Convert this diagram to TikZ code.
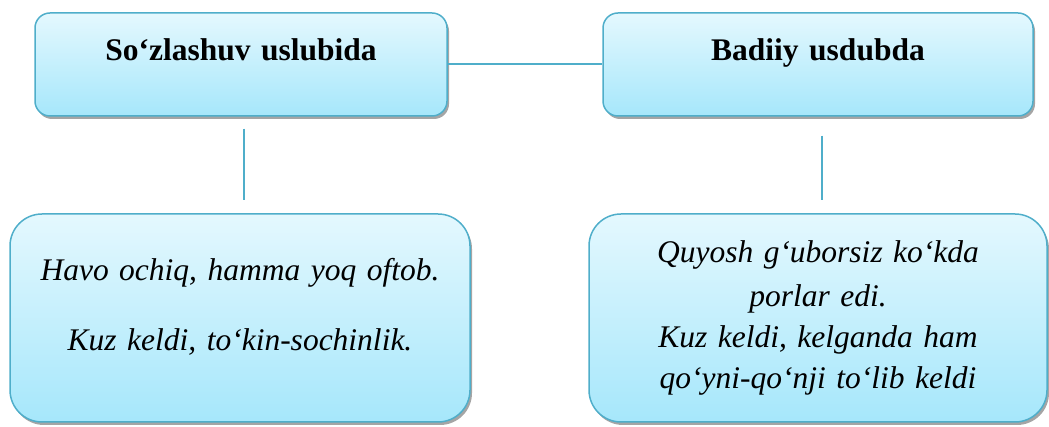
\documentclass[tikz,border=0pt]{standalone}
\usepackage{fontspec}
\setmainfont{Liberation Serif}
\usepackage{tikz}
\usetikzlibrary{shadows}
\definecolor{rama}{HTML}{4FAECA}
\definecolor{ochiq}{HTML}{E4F8FE}
\definecolor{toq}{HTML}{A6E7FB}

\begin{document}
\begin{tikzpicture}[x=1pt, y=1pt, line width=2pt,
  quti/.style={draw=rama, line width=1.5pt, top color=ochiq, bottom color=toq,
    drop shadow={shadow xshift=2pt, shadow yshift=-3pt, opacity=0.5, fill=black!70},
    inner ysep=0pt, inner xsep=8pt, align=center},
  sarlavha/.style={quti, rounded corners=15pt, font=\fontsize{31.5}{38}\selectfont\bfseries,
    text height=48pt, text depth=55pt},
  misol/.style={quti, rounded corners=32pt, font=\fontsize{31.5}{41}\selectfont\itshape}]
\useasboundingbox (0,0) rectangle (1049,427);
\node [sarlavha, text width=396pt] (soz) at (241,362.5) {So‘zlashuv uslubida};
\node [sarlavha, text width=414pt] (bad) at (818,362.5) {Badiiy usdubda};
\node [misol, text width=444pt, text height=67pt, text depth=141pt] (sozmisol) at (240,109)
  {Havo ochiq, hamma yoq oftob.\\[29pt] Kuz keldi, to‘kin-sochinlik.};
\node [misol, text width=442pt, text height=49pt, text depth=159pt] (badmisol) at (818,109)
  {Quyosh g‘uborsiz ko‘kda\\[3pt] porlar edi.\\ Kuz keldi, kelganda ham\\ qo‘yni-qo‘nji to‘lib keldi};
\draw [rama] (soz.east) -- (bad.west);
\draw [rama, shorten <=12pt, shorten >=13pt] ([xshift=3pt]soz.south) -- ([xshift=4pt]sozmisol.north);
\draw [rama, shorten <=19pt, shorten >=13pt] ([xshift=4pt]bad.south) -- ([xshift=4pt]badmisol.north);
\end{tikzpicture}
\end{document}
